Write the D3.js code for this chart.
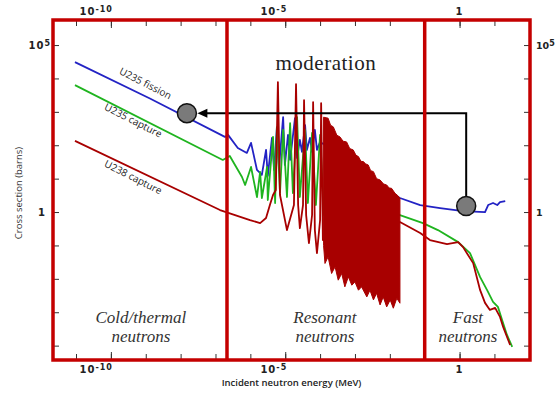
<!DOCTYPE html>
<html><head><meta charset="utf-8">
<script src="https://cdn.jsdelivr.net/npm/d3@7"></script>
<style>body{margin:0;background:#fff}svg{display:block}</style>
</head><body>
<svg id="chart" width="555" height="394"></svg>
<script>
// ---- DATA: points are [log10 E (MeV), log10 sigma (barns)] ----
const u235Fission = [[-11.03,4.49],[-8.88,3.40],[-6.73,2.25],[-6.64,2.31],[-6.36,1.92],[-6.10,1.77],[-5.98,2.07],[-5.81,1.26],[-5.67,1.11],[-5.55,1.86],[-5.50,1.08],[-5.38,2.22],[-5.32,1.26],[-5.24,2.51],[-5.18,1.32],[-5.06,2.84],[-5.01,1.41],[-4.92,2.31],[-4.86,1.56],[-4.72,2.81],[-4.66,1.62],[-4.58,2.16],[-4.52,1.80],[-4.43,2.60],[-4.38,1.86],[-4.29,2.22],[-4.23,1.80],[-4.15,2.46],[-4.09,1.86],[-4.00,2.10],[-3.86,2.01],[-3.72,1.86],[-3.14,1.41],[-2.57,1.02],[-1.99,0.60],[-1.71,0.42],[-1.13,0.21],[-0.56,0.12],[0.10,0.03],[0.73,0.00],[0.82,0.21],[0.96,0.27],[1.08,0.21],[1.16,0.30],[1.31,0.33]];
const u235Capture = [[-11.03,3.80],[-6.79,1.56],[-6.59,1.68],[-6.24,1.05],[-6.15,0.81],[-5.98,1.35],[-5.81,0.45],[-5.72,1.20],[-5.67,0.42],[-5.52,1.35],[-5.50,0.36],[-5.35,2.25],[-5.29,0.27],[-5.24,2.54],[-5.15,0.57],[-5.06,2.46],[-4.95,0.45],[-4.86,2.66],[-4.78,0.57],[-4.66,2.84],[-4.58,0.45],[-4.43,2.46],[-4.35,0.27],[-4.23,2.37],[-4.12,0.21],[-4.00,2.31],[-3.89,-0.09],[-3.14,0.36],[-2.28,0.06],[-1.71,-0.09],[-1.05,-0.33],[-0.62,-0.54],[-0.04,-0.90],[0.30,-1.23],[0.59,-1.95],[0.79,-2.34],[0.96,-2.69],[1.10,-2.84],[1.22,-3.23],[1.36,-3.68],[1.51,-4.04]];
const u238Capture = [[-11.03,2.13],[-6.87,0.06],[-6.44,-0.09],[-6.01,-0.24],[-5.72,-0.33],[-5.55,-0.18],[-5.44,0.21],[-5.35,0.51],[-5.27,0.66],[-5.21,3.89],[-5.15,0.51],[-4.95,-0.54],[-4.75,0.21],[-4.69,3.83],[-4.63,0.21],[-4.58,-0.48],[-4.49,0.21],[-4.46,3.35],[-4.40,-0.09],[-4.32,-0.93],[-4.23,-0.09],[-4.20,3.29],[-4.15,-0.54],[-4.09,-1.23],[-4.00,-0.24],[-3.97,3.26],[-3.92,-0.84],[-1.71,-0.30],[-1.13,-0.63],[-0.85,-0.84],[-0.36,-0.96],[-0.04,-0.90],[0.10,-1.05],[0.39,-1.53],[0.59,-2.34],[0.73,-2.72],[0.87,-2.93],[1.02,-2.87],[1.16,-3.14],[1.25,-3.44],[1.45,-3.98]];
// dense unresolved U238 resonance forest: upper and lower envelopes
const u238ForestTop = [[-3.90,2.84],[-3.77,2.81],[-3.70,2.60],[-3.62,2.55],[-3.52,2.30],[-3.43,2.25],[-3.34,2.12],[-3.24,2.10],[-3.15,1.90],[-3.05,1.86],[-2.97,1.70],[-2.90,1.66],[-2.83,1.52],[-2.76,1.51],[-2.69,1.44],[-2.62,1.41],[-2.55,1.24],[-2.47,1.21],[-2.38,1.00],[-2.28,0.96],[-2.18,0.84],[-2.09,0.81],[-2.02,0.72],[-1.95,0.71],[-1.85,0.56],[-1.78,0.50],[-1.71,0.41]];
const u238ForestBottom = [[-3.90,-1.00],[-3.86,-1.54],[-3.77,-1.34],[-3.67,-1.84],[-3.57,-1.64],[-3.48,-2.04],[-3.38,-1.84],[-3.29,-2.24],[-3.19,-1.94],[-3.09,-2.19],[-3.00,-2.09],[-2.90,-2.34],[-2.81,-2.24],[-2.66,-2.54],[-2.57,-2.34],[-2.47,-2.63],[-2.38,-2.43],[-2.28,-2.78],[-2.19,-2.54],[-2.09,-2.84],[-1.99,-2.63],[-1.90,-2.88],[-1.80,-2.58],[-1.71,-2.73]];
const curveNames = ["U235 fission","U235 capture","U238 capture"];
const curveLabelAt = [[-9.02,3.83],[-9.37,2.72],[-9.37,1.02]];
const regionBounds = [-6.67, -1.0];             // log10 E of region dividers
const regionNames = [["Cold/thermal","neutrons"],["Resonant","neutrons"],["Fast","neutrons"]];
const regionLabelE = [-9.14, -3.86, 0.24];
const thermalPoint = [-7.82, 2.96];
const fastPoint = [0.19, 0.18];
const xTickExps = [-11,-10,-9,-8,-7,-6,-5,-4,-3,-2,-1,0,1,2];
const xLabelExps = [-10,-5,0];
const yTickExps = [-4,-3,-2,-1,0,1,2,3,4,5];
const yLabelExps = [5,0];
const xDomainExp = [-11.66, 2.02];
const yDomainExp = [-4.43, 5.75];

// ---- DRAWING ----
const svg = d3.select("#chart");
const F = {left:53, right:530, top:20, bottom:360};
const x = d3.scaleLog().domain(xDomainExp.map(e=>10**e)).range([F.left, F.right]);
const y = d3.scaleLog().domain(yDomainExp.map(e=>10**e)).range([F.bottom, F.top]);
const px = d => x(10**d[0]), py = d => y(10**d[1]);
const line = d3.line().x(px).y(py);
const colors = ["#2323c4","#1fb41f","#a80000"];
const frameColor = "#c40000";

// ticks
function tickAxis(axisFn, pos, exps, size){
  const g = svg.append("g").attr("transform", pos)
    .call(axisFn(axisFn===d3.axisTop||axisFn===d3.axisBottom? x : y)
      .tickValues(exps.map(e=>10**e)).tickFormat("").tickSize(size));
  g.select(".domain").remove();
  g.selectAll("line").attr("stroke","#333").attr("stroke-width",1);
}
tickAxis(d3.axisTop, `translate(0,${F.top})`, xTickExps, -6);
tickAxis(d3.axisBottom, `translate(0,${F.bottom})`, xTickExps, -6);
tickAxis(d3.axisTop, `translate(0,${F.top})`, xLabelExps, -8);
tickAxis(d3.axisBottom, `translate(0,${F.bottom})`, xLabelExps, -8);
tickAxis(d3.axisLeft, `translate(${F.left},0)`, yTickExps, -6);
tickAxis(d3.axisRight, `translate(${F.right},0)`, yTickExps, -6);

// curves
[u235Fission, u235Capture, u238Capture].forEach((pts,i)=>{
  svg.append("path").attr("d", line(pts)).attr("fill","none")
    .attr("stroke", colors[i]).attr("stroke-width", 1.8).attr("stroke-linejoin","round");
});
svg.append("path")
  .attr("d", line(u238ForestTop.concat(u238ForestBottom.slice().reverse())) + "Z")
  .attr("fill", colors[2]).attr("stroke", colors[2]).attr("stroke-width", 1);

// curve labels
curveNames.forEach((t,i)=>{
  const cx = px(curveLabelAt[i]), cy = py(curveLabelAt[i]);
  svg.append("text").attr("transform",`translate(${cx},${cy}) rotate(27)`)
    .attr("text-anchor","middle").attr("dominant-baseline","middle")
    .attr("font-family","'Open Sans', sans-serif").attr("font-size",10)
    .attr("fill","#222").text(t);
});

// arrow (line)
const r = 9.5;
const t1 = [px(thermalPoint), py(thermalPoint)], f1 = [px(fastPoint), py(fastPoint)];
svg.append("path")
  .attr("d", `M${f1[0]},${f1[1]-r} L${f1[0]},${t1[1]} L${t1[0]+r+8},${t1[1]}`)
  .attr("fill","none").attr("stroke","#000").attr("stroke-width",2);

// frame & dividers
svg.append("rect").attr("x",F.left).attr("y",F.top).attr("width",F.right-F.left).attr("height",F.bottom-F.top)
  .attr("fill","none").attr("stroke",frameColor).attr("stroke-width",3.5);
regionBounds.forEach(e=>{
  svg.append("line").attr("x1",x(10**e)).attr("x2",x(10**e)).attr("y1",F.top).attr("y2",F.bottom)
    .attr("stroke",frameColor).attr("stroke-width",3.5);
});

// arrow head + circles
svg.append("path")
  .attr("d", `M${t1[0]+r+1},${t1[1]} L${t1[0]+r+11},${t1[1]-4.5} L${t1[0]+r+11},${t1[1]+4.5}Z`)
  .attr("fill","#000");
[t1,f1].forEach(c=>{
  svg.append("circle").attr("cx",c[0]).attr("cy",c[1]).attr("r",r)
    .attr("fill","#7a7a7a").attr("stroke","#111").attr("stroke-width",1.5);
});

// tick labels
function powLabel(sel, e){
  if(e===0){ sel.text("1"); return; }
  sel.append("tspan").text("10");
  sel.append("tspan").attr("dy",-3.5).attr("font-size",8).text(e<0? "-"+(-e) : String(e));
}
const tickFont = sel => sel.attr("font-family","'DejaVu Sans', Verdana, sans-serif")
  .attr("font-weight","bold").attr("font-size",10).attr("letter-spacing",1).attr("fill","#222");
xLabelExps.forEach(e=>{
  [F.top-5, F.bottom+13].forEach(yy=>{
    const t = svg.append("text").attr("x", x(10**e) + (e===0?0:2)).attr("y", yy)
      .attr("text-anchor", e===0?"middle":"end").call(tickFont);
    powLabel(t, e);
  });
});
yLabelExps.forEach(e=>{
  const yy = y(10**e) + 4;
  const tl = svg.append("text").attr("x", e===0? F.left-7 : F.left-2).attr("y", yy)
    .attr("text-anchor","end").call(tickFont);
  powLabel(tl, e);
  const tr = svg.append("text").attr("x", F.right+6).attr("y", yy)
    .attr("text-anchor","start").call(tickFont).attr("letter-spacing",0).attr("font-size",9.5);
  powLabel(tr, e);
});

// axis titles
svg.append("text").attr("x",(F.left+F.right)/2).attr("y",386).attr("text-anchor","middle")
  .attr("font-family","'Open Sans', sans-serif").attr("font-weight",600).attr("font-size",9.5)
  .attr("fill","#222").text("Incident neutron energy (MeV)");
svg.append("text").attr("transform",`translate(22,193) rotate(-90)`).attr("text-anchor","middle")
  .attr("font-family","'Open Sans', sans-serif").attr("font-size",9.5)
  .attr("fill","#333").text("Cross section (barns)");

// region labels
regionNames.forEach((lines,i)=>{
  lines.forEach((t,j)=>{
    svg.append("text").attr("x", x(10**regionLabelE[i])).attr("y", 323 + j*19)
      .attr("text-anchor","middle").attr("font-family","'Liberation Serif', serif")
      .attr("font-style","italic").attr("font-size",17).attr("fill","#333").text(t);
  });
});
svg.append("text").attr("x", (x(10**regionBounds[0]) + x(10**regionBounds[1]))/2).attr("y",70)
  .attr("text-anchor","middle").attr("font-family","'Liberation Serif', serif")
  .attr("font-size",21).attr("letter-spacing",0.5).attr("fill","#222").text("moderation");
</script>
</body></html>
